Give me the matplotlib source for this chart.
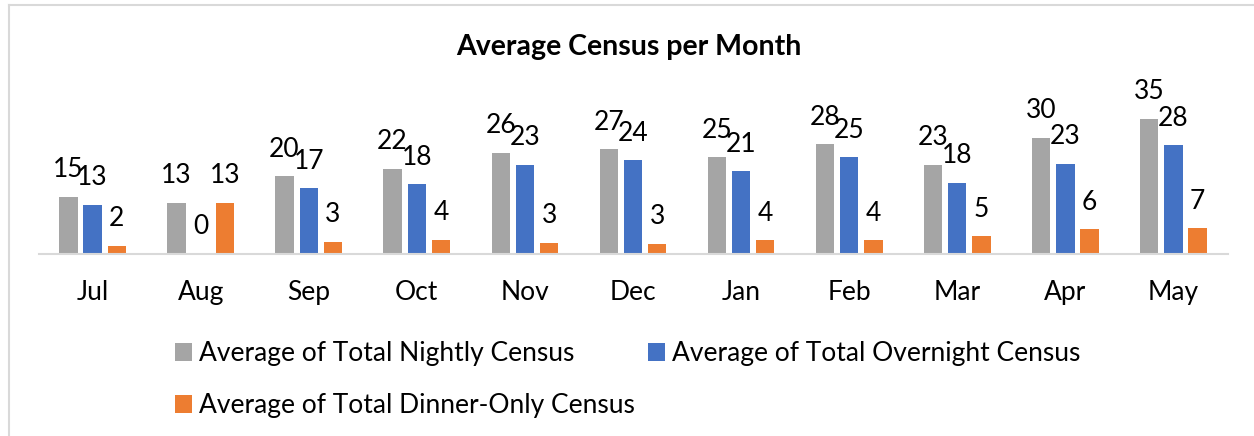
import matplotlib
matplotlib.use("Agg")
import matplotlib.pyplot as plt
from matplotlib.lines import Line2D
import numpy as np

plt.rcParams["font.family"] = ["Lato", "DejaVu Sans"]

months = ["Jul", "Aug", "Sep", "Oct", "Nov", "Dec", "Jan", "Feb", "Mar", "Apr", "May"]
nightly = [14.8, 13.3, 20.1, 22.0, 26.2, 27.1, 25.1, 28.4, 23.1, 30.1, 35.0]
overnight = [12.7, 0.0, 17.0, 18.1, 23.1, 24.3, 21.4, 25.0, 18.4, 23.4, 28.2]
dinner = [2.1, 13.3, 3.1, 3.7, 2.9, 2.6, 3.6, 3.6, 4.6, 6.4, 6.7]

series = [
    ("Average of Total Nightly Census", nightly, "#a5a5a5"),
    ("Average of Total Overnight Census", overnight, "#4472c4"),
    ("Average of Total Dinner-Only Census", dinner, "#ed7d31"),
]

W, H = 1254, 436
fig = plt.figure(figsize=(W / 100, H / 100), dpi=100)
ax = fig.add_axes([38.5 / W, 1 - 254 / H, (1227.5 - 38.5) / W, (254 - 80) / H])

x = np.arange(len(months))
width = 0.17
offsets = [-0.224, 0, 0.224]
handles = []
for (name, vals, color), off in zip(series, offsets):
    bars = ax.bar(x + off, vals, width, color=color, label=name, zorder=2)
    handles.append(bars)
    for xi, v in zip(x + off, vals):
        ax.annotate(f"{int(v + 0.5)}", (xi, v), xytext=(0, 10.5), textcoords="offset points",
                    ha="center", va="bottom", fontsize=19, color="#000000")

ax.set_xlim(-0.5, len(months) - 0.5)
ax.set_ylim(0, (254 - 80) / 3.86)
ax.set_xticks(x)
ax.set_xticklabels(months, fontsize=19)
ax.tick_params(axis="x", length=0, pad=19)
ax.set_yticks([])
for s in ["top", "right", "left"]:
    ax.spines[s].set_visible(False)
ax.spines["bottom"].set_color("#d9d9d9")
ax.spines["bottom"].set_linewidth(1.5)

fig.text(629 / W, 1 - 47 / H, "Average Census per Month", ha="center", va="center",
         fontsize=20.5, fontweight="bold")

# row-wise legend: nightly / overnight on first row, dinner-only below
order = [0, 2, 1]
fig.legend([handles[i] for i in order], [series[i][0] for i in order], ncol=2,
           loc="upper left", bbox_to_anchor=(175 / W, 1 - 341 / H), frameon=False,
           fontsize=19, handlelength=0.65, handleheight=0.65, handletextpad=0.25,
           columnspacing=0.5, labelspacing=1.03, borderpad=0, borderaxespad=0)

# chart frame (left and top edges visible in the crop)
fig.add_artist(Line2D([8.5 / W, 8.5 / W], [0, 1 - 5.5 / H], color="#d9d9d9", lw=1.5))
fig.add_artist(Line2D([8.5 / W, 1], [1 - 5.5 / H, 1 - 5.5 / H], color="#d9d9d9", lw=1.5))

fig.savefig("out.png", dpi=100, facecolor="white")
